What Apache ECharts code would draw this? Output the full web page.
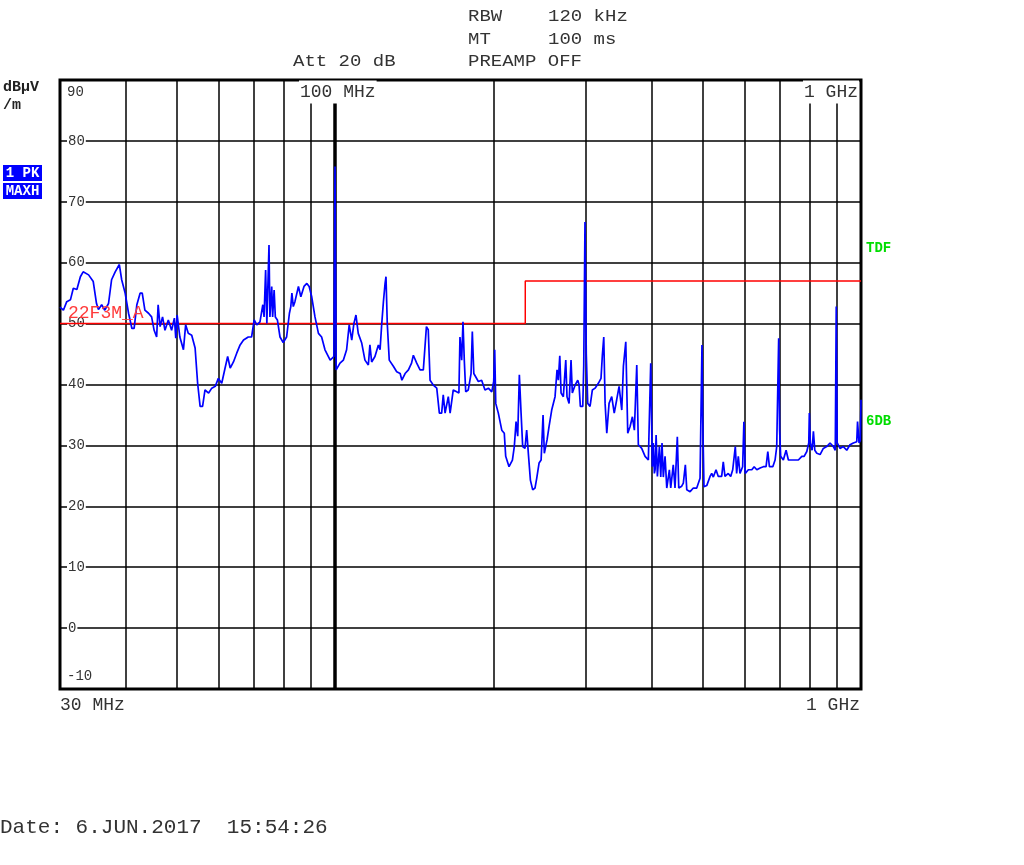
<!DOCTYPE html>
<html><head><meta charset="utf-8">
<script src="https://cdn.jsdelivr.net/npm/echarts@6/dist/echarts.min.js"></script>
<style>html,body{margin:0;padding:0;background:#fff}#c{width:1024px;height:865px}</style>
</head><body><div id="c"></div>
<script>
// Trace: frequency (MHz) and level (dBµV/m)
const freqMHz = [
30.0,30.45,30.9,31.4,31.8,32.3,32.8,33.2,34.0,34.7,35.2,35.5,36.0,36.5,37.1,37.6,38.2,38.9,39.3,39.9,
40.5,41.1,41.5,42.0,42.6,43.0,43.5,44.2,44.8,45.3,45.8,46.1,46.5,47.0,47.5,48.2,48.9,49.5,49.8,50.1,
50.7,51.5,52.0,52.6,53.4,54.2,54.8,55.4,56.0,56.6,57.5,58.3,59.2,60.0,60.9,61.8,62.5,63.2,64.1,65.0,
66.0,67.0,68.4,69.4,70.2,71.0,72.0,72.9,73.3,73.8,74.2,74.9,75.2,75.8,76.1,76.6,77.0,77.7,78.6,79.7,
80.9,81.9,82.4,82.8,83.3,83.9,85.2,86.1,87.3,88.4,89.3,90.3,91.6,93.0,94.3,95.7,97.9,99.5,100.0,100.5,
101.0,102.2,103.7,105.2,106.4,107.6,108.6,109.6,110.7,112.4,114.0,115.7,116.5,117.4,119.1,120.9,121.8,122.7,123.6,124.5,
125.0,125.7,126.8,129.1,131.0,133.0,134.0,135.9,137.9,139.8,140.9,143.0,145.1,147.2,149.2,150.4,151.6,153.8,156.1,157.9,
159.5,160.6,161.9,164.2,165.5,167.8,170.3,172.0,172.8,174.1,175.1,176.1,177.2,179.2,181.4,182.4,183.6,185.2,187.3,190.0,
192.8,195.7,198.6,200.3,201.2,202.1,204.4,207.5,209.8,211.1,214.2,217.4,219.2,220.9,222.5,224.1,225.8,227.4,229.7,231.4,
233.1,235.2,237.6,240.0,241.8,244.3,246.5,248.6,250.0,253.0,255.2,258.2,262.0,264.3,265.8,267.5,269.0,271.7,274.6,276.1,
278.6,281.0,282.6,286.0,289.4,291.0,292.7,295.8,297.1,298.7,300.4,302.3,305.4,308.5,312.2,316.7,320.4,322.3,324.3,326.2,
328.6,331.9,335.8,339.5,343.2,346.8,350.9,353.4,357.1,360.2,363.9,367.6,370.8,374.7,377.3,382.9,388.6,394.2,398.3,401.1,
402.9,404.7,406.0,407.8,410.1,413.7,416.2,418.5,420.9,424.1,427.3,432.2,434.8,439.6,443.0,447.5,450.3,456.2,459.4,463.5,
466.4,473.2,480.0,487.2,494.3,496.4,498.5,500.0,502.9,509.0,516.4,520.2,523.9,530.1,535.4,543.4,547.2,551.3,559.3,565.3,
570.3,576.8,580.2,584.4,588.7,595.6,598.9,602.5,610.7,620.1,626.4,633.8,642.9,652.1,660.0,665.0,669.7,679.7,686.5,691.5,
694.4,697.4,700.3,703.5,711.8,720.4,727.7,738.5,749.0,760.2,771.8,779.6,788.8,795.6,797.6,801.0,807.2,811.9,816.9,824.1,
836.0,847.9,860.7,873.3,885.9,893.5,897.3,901.1,912.2,925.6,939.5,953.0,967.1,981.6,985.0,991.5,997.0,1000
];
const levelDb = [
52.7,52.2,53.6,53.9,55.8,55.6,57.7,58.5,58.0,56.9,53.3,52.3,53.1,52.2,53.3,57.2,58.5,59.7,57.2,55.0,
51.7,49.2,49.2,53.1,55.0,55.0,52.2,51.7,51.1,48.9,47.8,53.1,49.5,51.1,48.9,50.6,48.9,50.9,47.6,51.4,
47.8,45.7,49.8,48.4,48.1,46.0,40.2,36.4,36.4,39.1,38.6,39.4,39.7,41.0,40.2,42.7,44.6,42.7,43.7,45.1,
46.5,47.3,47.8,47.8,50.6,49.8,50.3,53.1,51.1,58.8,50.0,62.9,51.1,56.1,51.1,55.5,51.1,50.6,47.8,46.9,
47.8,51.7,52.8,55.0,52.8,53.6,56.1,54.4,56.1,56.6,56.1,54.4,51.1,48.4,47.8,45.7,44.0,44.6,75.8,42.4,
42.6,43.5,44.0,45.7,49.8,47.3,50.0,51.4,48.4,46.8,44.0,43.2,46.5,43.7,44.6,46.5,45.7,50.0,53.6,56.6,
57.7,50.0,44.0,43.0,42.1,41.8,40.7,41.8,42.4,43.5,44.8,43.5,42.4,42.4,49.5,49.0,40.7,39.9,39.4,35.3,
35.3,38.3,35.3,38.0,35.3,39.1,38.8,38.6,47.8,44.0,50.3,44.0,38.8,39.1,41.8,48.7,41.8,41.8,40.5,40.7,
39.1,39.4,38.8,40.5,45.7,36.9,35.3,32.5,32.0,28.2,26.5,27.6,29.8,33.9,31.5,41.6,35.3,29.8,29.5,32.5,
28.7,24.3,22.7,23.0,24.6,27.1,27.6,35.0,28.7,30.9,33.1,35.8,38.0,42.4,40.7,44.7,38.6,38.0,44.0,38.0,
36.9,44.0,38.6,39.9,40.7,40.0,36.4,36.4,43.2,66.7,45.0,36.9,36.4,39.1,39.4,40.2,41.0,44.8,47.8,36.9,
32.0,36.9,38.0,35.3,37.5,39.7,35.8,43.0,47.0,32.0,33.1,34.7,32.5,43.2,30.1,29.5,28.2,27.6,43.5,26.5,
30.4,25.4,26.0,31.7,24.9,29.8,24.8,30.4,24.8,28.2,23.0,26.0,23.0,26.8,23.0,31.4,23.0,23.3,23.8,26.8,
22.7,22.4,23.0,23.0,24.6,35.6,46.5,35.0,23.2,23.4,24.9,25.4,24.8,26.0,24.9,24.9,27.3,24.9,25.4,24.9,
26.0,29.8,25.4,28.2,25.4,26.5,33.9,25.4,26.0,26.0,26.5,26.0,26.3,26.5,26.5,29.0,26.5,26.5,27.6,29.8,
38.6,47.6,32.5,28.2,27.6,29.2,27.6,27.6,27.6,27.6,28.2,28.2,29.0,30.4,35.3,30.4,29.2,32.3,29.2,28.7,
28.5,29.5,29.8,30.4,29.8,29.2,52.8,30.4,29.5,29.8,29.2,30.1,30.4,30.6,33.9,30.4,30.8,37.5
];
// Limit line 22F3M_A
const limitFreqMHz = [30, 230, 230, 1000];
const limitDb = [50, 50, 57, 57];
// Vertical grid frequencies (MHz)
const gridFreqMHz = [40, 50, 60, 70, 80, 90, 100, 200, 300, 400, 500, 600, 700, 800, 900];
// Y axis
const yMin = -10, yMax = 90, yStep = 10;

const MONO = '"Liberation Mono", "DejaVu Sans Mono", monospace';

function txt(x, y, s, size, o) {
  o = o || {};
  const el = {
    type: 'text', x: x, y: y, silent: true, z: 100,
    style: {
      text: s,
      font: (o.bold ? 'bold ' : '') + size + 'px ' + MONO,
      fill: o.fill || '#333',
      align: o.align || 'left',
      verticalAlign: 'middle'
    }
  };
  if (o.bg) { el.style.backgroundColor = o.bg; el.style.padding = o.pad || [0, 1]; }
  if (o.scaleY) el.scaleY = o.scaleY;
  return el;
}

const chart = echarts.init(document.getElementById('c'), null, {renderer: 'canvas'});
const trace = freqMHz.map((f, i) => [f, levelDb[i]]);
const limit = limitFreqMHz.map((f, i) => [f, limitDb[i]]);

const graphics = [
  txt(468, 17, 'RBW', 19, {scaleY: 0.82}),
  txt(548, 17, '120 kHz', 19, {scaleY: 0.82}),
  txt(468, 40, 'MT', 19, {scaleY: 0.82}),
  txt(548, 40, '100 ms', 19, {scaleY: 0.82}),
  txt(293, 62, 'Att 20 dB', 19, {scaleY: 0.82}),
  txt(468, 62, 'PREAMP OFF', 19, {scaleY: 0.82}),
  txt(3, 87, 'dBµV', 15, {bold: true, fill: '#222'}),
  txt(3, 105, '/m', 15, {bold: true, fill: '#222'}),
  {type: 'rect', shape: {x: 3, y: 165, width: 39, height: 16}, style: {fill: '#0000ff'}, z: 100, silent: true},
  txt(22.5, 173, '1 PK', 14, {bold: true, fill: '#fff', align: 'center'}),
  {type: 'rect', shape: {x: 3, y: 183, width: 39, height: 16}, style: {fill: '#0000ff'}, z: 100, silent: true},
  txt(22.5, 191, 'MAXH', 14, {bold: true, fill: '#fff', align: 'center'}),
  txt(866, 248, 'TDF', 14, {bold: true, fill: '#00dd00'}),
  txt(866, 421, '6DB', 14, {bold: true, fill: '#00dd00'}),
  txt(299, 92, '100 MHz', 18, {bg: '#fff', pad: [1, 1, 4, 1]}),
  txt(803, 92, '1 GHz', 18, {bg: '#fff', pad: [1, 1, 4, 1]}),
  txt(60, 705, '30 MHz', 18),
  txt(860, 705, '1 GHz', 18, {align: 'right'}),
  txt(68, 313, '22F3M_A', 18, {fill: '#ff3b3b'}),
  txt(0, 827, 'Date: 6.JUN.2017  15:54:26', 21)
];

chart.setOption({
  animation: false,
  backgroundColor: '#fff',
  grid: {left: 60, top: 80, right: 163, bottom: 176, show: true, borderColor: '#000', borderWidth: 3, backgroundColor: 'transparent'},
  xAxis: {
    type: 'log', logBase: 10, min: 30, max: 1000,
    axisLine: {show: false}, axisTick: {show: false}, axisLabel: {show: false}, splitLine: {show: false}, minorSplitLine: {show: false}
  },
  yAxis: {
    type: 'value', min: yMin, max: yMax, interval: yStep,
    axisLine: {show: false}, axisTick: {show: false},
    splitLine: {show: true, lineStyle: {color: '#000', width: 1.5}},
    axisLabel: {
      inside: true, margin: 7, color: '#333', fontFamily: MONO, fontSize: 14,
      formatter: function (v) {
        if (v === yMax) return '{t|' + v + '}';
        if (v === yMin) return '{b|' + v + '}';
        return '{m|' + v + '}';
      },
      rich: {
        t: {fontFamily: MONO, fontSize: 14, color: '#333', padding: [24, 0, 0, 0]},
        b: {fontFamily: MONO, fontSize: 14, color: '#333', padding: [0, 0, 26, 0]},
        m: {fontFamily: MONO, fontSize: 14, color: '#333', backgroundColor: '#fff', padding: [0, 1]}
      }
    }
  },
  series: [
    {
      type: 'line', data: [], silent: true, z: 1,
      markLine: {
        silent: true, symbol: ['none', 'none'], label: {show: false}, z: 1,
        lineStyle: {color: '#000', width: 1.5, type: 'solid'},
        emphasis: {disabled: true},
        data: gridFreqMHz.map(f => ({xAxis: f, lineStyle: {color: '#000', type: 'solid', width: f === 100 ? 3.5 : 1.5}}))
      }
    },
    {
      type: 'line', data: limit, showSymbol: false, silent: true, z: 2,
      lineStyle: {color: '#ff0000', width: 1.5}
    },
    {
      type: 'line', data: trace, showSymbol: false, silent: true, z: 3,
      lineStyle: {color: '#0000ff', width: 1.7}
    }
  ],
  graphic: graphics
});
</script>
</body></html>
